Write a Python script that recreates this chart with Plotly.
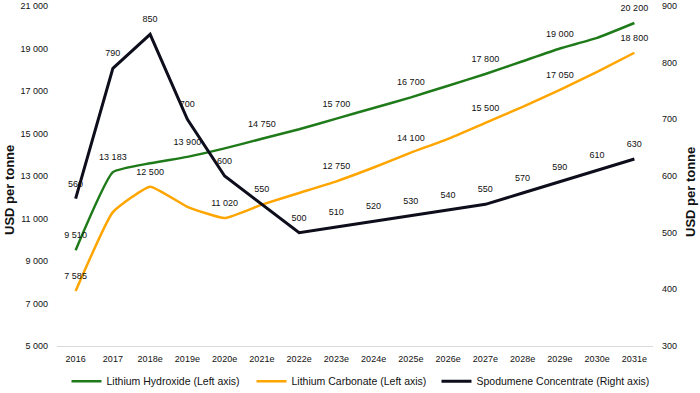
import plotly.graph_objects as go

years = ["2016", "2017", "2018e", "2019e", "2020e", "2021e", "2022e", "2023e",
         "2024e", "2025e", "2026e", "2027e", "2028e", "2029e", "2030e", "2031e"]

hydroxide = [9510, 13183, 13600, 13900, 14300, 14750, 15200, 15700,
             16200, 16700, 17250, 17800, 18400, 19000, 19500, 20200]
hydroxide_labeled = [True, True, False, True, False, True, False, True,
                     False, True, False, True, False, True, False, True]

carbonate = [7585, 11300, 12500, 11550, 11020, 11650, 12200, 12750,
             13400, 14100, 14750, 15500, 16250, 17050, 17900, 18800]
carbonate_labeled = [True, False, True, False, True, False, False, True,
                     False, True, False, True, False, True, False, True]

spodumene = [560, 790, 850, 700, 600, 550, 500, 510,
             520, 530, 540, 550, 570, 590, 610, 630]

left_ticks = [5000, 7000, 9000, 11000, 13000, 15000, 17000, 19000, 21000]
right_ticks = [300, 400, 500, 600, 700, 800, 900]
axis_title = "USD per tonne"


def fmt(v):
    return f"{v:,}".replace(",", " ")


FONT = "Liberation Sans, Arial, sans-serif"
GREEN = "#1f7a1a"
ORANGE = "#ffa500"
BLACK = "#0d0d1c"
TXT = "#111111"

fig = go.Figure()

label_font = dict(family=FONT, size=9, color=TXT)
hidden_marker = dict(size=14, color="rgba(0,0,0,0)", line=dict(width=0))

fig.add_trace(go.Scatter(
    x=years, y=hydroxide, name="Lithium Hydroxide (Left axis)", legend="legend",
    mode="lines+markers+text", marker=hidden_marker,
    line=dict(color=GREEN, width=2.5, shape="spline", smoothing=0.4),
    text=[fmt(v) if s else "" for v, s in zip(hydroxide, hydroxide_labeled)],
    textposition="top center", textfont=label_font, cliponaxis=False,
))
fig.add_trace(go.Scatter(
    x=years, y=carbonate, name="Lithium Carbonate (Left axis)", legend="legend2",
    mode="lines+markers+text", marker=hidden_marker,
    line=dict(color=ORANGE, width=2.5, shape="spline", smoothing=0.4),
    text=[fmt(v) if s else "" for v, s in zip(carbonate, carbonate_labeled)],
    textposition="top center", textfont=label_font, cliponaxis=False,
))
fig.add_trace(go.Scatter(
    x=years, y=spodumene, name="Spodumene Concentrate (Right axis)", yaxis="y2",
    legend="legend3",
    mode="lines+markers+text", marker=hidden_marker,
    line=dict(color=BLACK, width=3),
    text=[fmt(v) for v in spodumene],
    textposition="top center", textfont=label_font, cliponaxis=False,
))

tick_font = dict(family=FONT, size=9, color=TXT)
title_font = dict(family=FONT, size=13, color=TXT)


def legend_at(px):
    return dict(orientation="h", xref="container", yref="container",
                x=px / 700, xanchor="left", y=0.03, yanchor="middle",
                font=dict(family=FONT, size=10.5, color=TXT),
                itemwidth=30, bgcolor="rgba(0,0,0,0)")


fig.update_layout(
    width=700, height=393,
    margin=dict(l=57, r=47, t=6, b=47, autoexpand=False),
    paper_bgcolor="white", plot_bgcolor="white",
    font=dict(family=FONT, color=TXT),
    showlegend=True,
    legend=legend_at(66.5),
    legend2=legend_at(251.5),
    legend3=legend_at(436.5),
    xaxis=dict(type="category", range=[-0.5, len(years) - 0.5], showgrid=False,
               showline=True, linecolor="#d9d9d9",
               linewidth=1, ticks="", tickfont=tick_font, ticklabelstandoff=4),
    yaxis=dict(range=[5000, 21000], tickvals=left_ticks,
               ticktext=[fmt(v) for v in left_ticks], showgrid=False, zeroline=False,
               showline=False, ticks="", tickfont=tick_font, ticklabelstandoff=8),
    yaxis2=dict(range=[300, 900], tickvals=right_ticks,
                ticktext=[fmt(v) for v in right_ticks], overlaying="y", side="right",
                showgrid=False, zeroline=False, showline=False, ticks="",
                tickfont=tick_font, ticklabelstandoff=8),
    annotations=[
        dict(text=f"<b>{axis_title}</b>", xref="paper", yref="paper",
             x=(9 - 57) / 596, y=(346 - 190) / 340, textangle=-90,
             showarrow=False, font=title_font, xanchor="center", yanchor="middle"),
        dict(text=f"<b>{axis_title}</b>", xref="paper", yref="paper",
             x=(690 - 57) / 596, y=(346 - 192) / 340, textangle=-90,
             showarrow=False, font=title_font, xanchor="center", yanchor="middle"),
    ],
)

fig.write_html(
    "out.html",
    config={"displayModeBar": False},
    post_script="document.body.style.margin='0';document.body.style.overflow='hidden';",
)
